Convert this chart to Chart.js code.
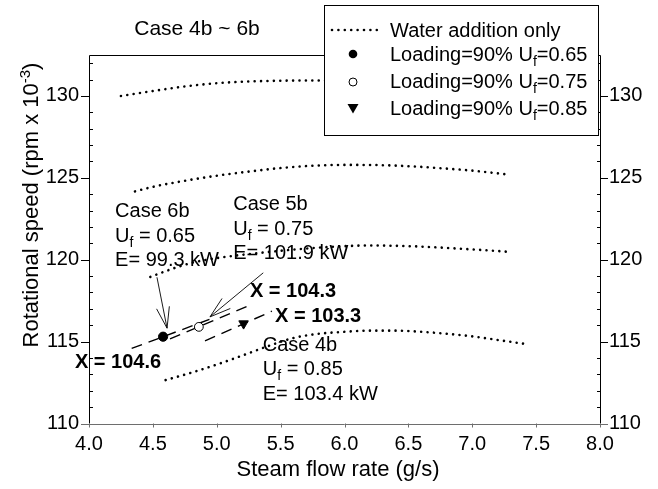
<!DOCTYPE html>
<html><head><meta charset="utf-8">
<script src="https://cdn.jsdelivr.net/npm/chart.js@4.4.1/dist/chart.umd.min.js"></script>
<style>html,body{margin:0;padding:0;background:#fff}#wrap{width:658px;height:489px}</style>
</head><body><div id="wrap"><canvas id="c" width="658" height="489"></canvas></div>
<script>
// ---------- data ----------
const xTickValues = [4.0, 4.5, 5.0, 5.5, 6.0, 6.5, 7.0, 7.5, 8.0];
const xTickLabels = ['4.0', '4.5', '5.0', '5.5', '6.0', '6.5', '7.0', '7.5', '8.0'];
const yTickValues = [110, 115, 120, 125, 130];
const yTickLabels = ['110', '115', '120', '125', '130'];
const yMinorTicks = [111,112,113,114,116,117,118,119,121,122,123,124,126,127,128,129,131,132];

// "Water addition only" curves
const c1x = [4.25, 4.5, 4.75, 5.0, 5.25, 5.5, 5.75, 6.0, 6.25, 6.5, 6.75, 7.0, 7.25];
const c1y = [130.0, 130.3, 130.58, 130.78, 130.88, 130.93, 130.94, 130.92, 130.88, 130.82, 130.74, 130.64, 130.52];
const c2x = [4.36, 4.5, 4.75, 5.0, 5.25, 5.5, 5.75, 6.0, 6.25, 6.5, 6.75, 7.0, 7.26];
const c2y = [124.17, 124.45, 124.82, 125.13, 125.38, 125.6, 125.74, 125.79, 125.78, 125.71, 125.59, 125.44, 125.22];
const c3x = [4.48, 4.6, 4.7, 4.8, 4.9, 5.0, 5.2, 5.4, 5.6, 5.8, 6.0, 6.2, 6.4, 6.6, 6.8, 7.0, 7.2, 7.3];
const c3y = [118.95, 119.3, 119.57, 119.8, 119.97, 120.1, 120.3, 120.47, 120.62, 120.74, 120.83, 120.87, 120.85, 120.8, 120.72, 120.63, 120.53, 120.47];
const c4x = [4.6, 4.8, 5.0, 5.2, 5.4, 5.6, 5.8, 6.0, 6.2, 6.4, 6.6, 6.8, 7.0, 7.2, 7.42];
const c4y = [112.65, 113.1, 113.6, 114.15, 114.72, 115.22, 115.48, 115.6, 115.67, 115.67, 115.6, 115.48, 115.32, 115.1, 114.85];

// Constant-X dashed lines
const lineX1046 = [[4.334, 114.585], [4.986, 116.48]];
const lineX1043 = [[4.634, 115.17], [5.26, 117.22]];
const lineX1033 = [[4.908, 115.04], [5.432, 116.86]];

// Loading = 90% points
const ptUf065 = [4.58, 115.3];
const ptUf075 = [4.86, 115.9];
const ptUf085 = [5.21, 116.1];

// Arrows [from, to]
const arrow6b = [[4.532, 118.93], [4.611, 115.82]];
const arrow5b = [[5.364, 119.2], [4.947, 116.51]];

// Annotation anchors (data coords of first-line baseline, left)
const note6b = [4.204, 122.59];
const note5b = [5.129, 123.02];
const note4b = [5.36, 114.44];
const noteX1046 = [3.89, 113.38];
const noteX1043 = [5.26, 117.7];
const noteX1033 = [5.456, 116.17];

const titleText = 'Case 4b ~ 6b';
const xTitle = 'Steam flow rate (g/s)';
const legendLabels = [
  [['Water addition only', 0]],
  [['Loading=90% U', 0], ['f', 1], ['=0.65', 0]],
  [['Loading=90% U', 0], ['f', 1], ['=0.75', 0]],
  [['Loading=90% U', 0], ['f', 1], ['=0.85', 0]]
];

// ---------- chart ----------
const FONT = 'Arial, "Liberation Sans", Helvetica, sans-serif';
const pts = (xs, ys) => xs.map((x, i) => ({x, y: ys[i]}));
const seg = a => a.map(p => ({x: p[0], y: p[1]}));

const dotted = (data) => ({
  data, showLine: true, pointRadius: 0, borderColor: '#000', borderWidth: 2.6,
  borderDash: [0.01, 6.4], borderCapStyle: 'round', cubicInterpolationMode: 'monotone', fill: false
});
const dashed = (data) => ({
  data, showLine: true, pointRadius: 0, borderColor: '#000', borderWidth: 1.4,
  borderDash: [11, 7], fill: false
});

function richText(ctx, parts, x, y, size, bold) {
  let cx = x;
  for (const [t, sub] of parts) {
    const s = sub ? Math.round(size * 0.72) : size;
    ctx.font = (bold ? 'bold ' : '') + s + 'px ' + FONT;
    ctx.fillText(t, cx, y + (sub ? 5 : 0));
    cx += ctx.measureText(t).width;
  }
}

function arrow(ctx, x0, y0, x1, y1) {
  ctx.beginPath(); ctx.moveTo(x0, y0); ctx.lineTo(x1, y1); ctx.stroke();
  const ang = Math.atan2(y1 - y0, x1 - x0);
  const L = 22, w = 0.3;
  ctx.beginPath();
  ctx.moveTo(x1 - L * Math.cos(ang - w), y1 - L * Math.sin(ang - w));
  ctx.lineTo(x1, y1);
  ctx.lineTo(x1 - L * Math.cos(ang + w), y1 - L * Math.sin(ang + w));
  ctx.stroke();
}

const decor = {
  id: 'decor',
  afterDraw(chart) {
    const ctx = chart.ctx, a = chart.chartArea;
    const xs = chart.scales.x, ys = chart.scales.y;
    const X = v => xs.getPixelForValue(v), Y = v => ys.getPixelForValue(v);
    ctx.save();
    ctx.fillStyle = '#000'; ctx.strokeStyle = '#000'; ctx.lineWidth = 1;
    // axes
    ctx.beginPath();
    ctx.moveTo(a.left + 0.5, a.bottom); ctx.lineTo(a.left + 0.5, a.top + 0.5);
    ctx.lineTo(a.right + 0.5, a.top + 0.5); ctx.lineTo(a.right + 0.5, a.bottom);
    ctx.stroke();
    // y ticks
    ctx.beginPath();
    for (const v of yTickValues) {
      const py = Math.round(Y(v)) + 0.5;
      ctx.moveTo(a.left - 8, py); ctx.lineTo(a.left + 1, py);
      ctx.moveTo(a.right, py); ctx.lineTo(a.right + 8, py);
    }
    for (const v of yMinorTicks) {
      const py = Math.round(Y(v)) + 0.5;
      ctx.moveTo(a.left, py); ctx.lineTo(a.left + 4, py);
      ctx.moveTo(a.right - 3, py); ctx.lineTo(a.right + 1, py);
    }
    ctx.stroke();
    // bottom axis (gray)
    ctx.strokeStyle = '#6e6e6e';
    ctx.beginPath();
    ctx.moveTo(a.left - 8, Math.round(a.bottom) + 0.5); ctx.lineTo(a.right + 8, Math.round(a.bottom) + 0.5);
    for (const v of xTickValues) {
      const px = Math.round(X(v)) + 0.5;
      ctx.moveTo(px, a.bottom); ctx.lineTo(px, a.bottom + 4);
    }
    ctx.stroke();
    ctx.strokeStyle = '#000';

    // titles
    ctx.textAlign = 'center'; ctx.textBaseline = 'alphabetic';
    ctx.font = '21px ' + FONT;
    ctx.fillText(titleText, 197, 35);
    ctx.font = '22px ' + FONT;
    ctx.fillText(xTitle, 338, 476);
    // y title with superscript
    ctx.save();
    ctx.translate(38, 205); ctx.rotate(-Math.PI / 2);
    ctx.textAlign = 'left';
    const p1 = 'Rotational speed (rpm x 10', p2 = '-3', p3 = ')';
    ctx.font = '22px ' + FONT; const w1 = ctx.measureText(p1).width, w3 = ctx.measureText(p3).width;
    ctx.font = '15px ' + FONT; const w2 = ctx.measureText(p2).width;
    let sx = -(w1 + w2 + w3) / 2;
    ctx.font = '22px ' + FONT; ctx.fillText(p1, sx, 0); sx += w1;
    ctx.font = '15px ' + FONT; ctx.fillText(p2, sx, -8); sx += w2;
    ctx.font = '22px ' + FONT; ctx.fillText(p3, sx, 0);
    ctx.restore();

    // annotations
    ctx.textAlign = 'left';
    const notes = [
      [note6b, [[['Case 6b', 0]], [['U', 0], ['f', 1], [' = 0.65', 0]], [['E= 99.3 kW', 0]]]],
      [note5b, [[['Case 5b', 0]], [['U', 0], ['f', 1], [' = 0.75', 0]], [['E= 101.9 kW', 0]]]],
      [note4b, [[['Case 4b', 0]], [['U', 0], ['f', 1], [' = 0.85', 0]], [['E= 103.4 kW', 0]]]]
    ];
    for (const [anc, lines] of notes) {
      lines.forEach((ln, i) => richText(ctx, ln, X(anc[0]), Y(anc[1]) + i * 24.5, 20, false));
    }
    richText(ctx, [['X = 104.6', 0]], X(noteX1046[0]), Y(noteX1046[1]), 20, true);
    richText(ctx, [['X = 104.3', 0]], X(noteX1043[0]), Y(noteX1043[1]), 20, true);
    richText(ctx, [['X = 103.3', 0]], X(noteX1033[0]), Y(noteX1033[1]), 20, true);

    // arrows
    ctx.lineWidth = 0.9;
    for (const ar of [arrow6b, arrow5b]) arrow(ctx, X(ar[0][0]), Y(ar[0][1]), X(ar[1][0]), Y(ar[1][1]));

    // legend
    ctx.lineWidth = 1;
    ctx.fillStyle = '#fff';
    ctx.fillRect(324.5, 5.5, 274, 130);
    ctx.strokeRect(324.5, 5.5, 274, 130);
    ctx.fillStyle = '#000';
    // dotted sample
    for (let dx = 332; dx <= 378; dx += 6.4) { ctx.beginPath(); ctx.arc(dx, 30, 1.3, 0, Math.PI * 2); ctx.fill(); }
    ctx.beginPath(); ctx.arc(353, 54, 4.3, 0, Math.PI * 2); ctx.fill();
    ctx.beginPath(); ctx.arc(353, 82, 4, 0, Math.PI * 2); ctx.stroke();
    ctx.beginPath(); ctx.moveTo(347.5, 104); ctx.lineTo(358.5, 104); ctx.lineTo(353, 113.5); ctx.closePath(); ctx.fill();
    const baselines = [37, 61, 88, 115];
    legendLabels.forEach((parts, i) => richText(ctx, parts, 390, baselines[i], 20, false));
    ctx.restore();
  }
};

const tickOpts = (labels, pad) => ({
  font: {family: FONT, size: 20}, color: '#000', padding: pad, autoSkip: false, maxRotation: 0,
  callback: (v, i) => labels[i]
});

new Chart(document.getElementById('c'), {
  type: 'scatter',
  data: {
    datasets: [
      {data: seg([ptUf065]), pointStyle: 'circle', pointRadius: 4.6, backgroundColor: '#000', borderColor: '#000', borderWidth: 1},
      {data: seg([ptUf075]), pointStyle: 'circle', pointRadius: 4.4, backgroundColor: '#fff', borderColor: '#000', borderWidth: 1},
      {data: seg([ptUf085]), pointStyle: 'triangle', pointRotation: 180, pointRadius: 5.5, backgroundColor: '#000', borderColor: '#000', borderWidth: 1},
      dashed(seg(lineX1046)),
      dashed(seg(lineX1043)),
      dashed(seg(lineX1033)),
      dotted(pts(c1x, c1y)),
      dotted(pts(c2x, c2y)),
      dotted(pts(c3x, c3y)),
      dotted(pts(c4x, c4y))
    ]
  },
  options: {
    responsive: false, animation: false, devicePixelRatio: 1,
    layout: {padding: {top: 55, left: 0, right: 0, bottom: 0}},
    plugins: {legend: {display: false}, tooltip: {enabled: false}, title: {display: false}},
    scales: {
      x: {type: 'linear', min: 4, max: 8,
        afterBuildTicks: s => { s.ticks = xTickValues.map(v => ({value: v})); },
        ticks: tickOpts(xTickLabels, 9),
        grid: {display: false, drawTicks: false}, border: {display: false},
        afterFit: s => { s.height = 65.5; }},
      y: {type: 'linear', position: 'left', min: 110, max: 132.5,
        afterBuildTicks: s => { s.ticks = yTickValues.map(v => ({value: v})); },
        ticks: tickOpts(yTickLabels, 10),
        grid: {display: false, drawTicks: false}, border: {display: false},
        afterFit: s => { s.width = 89; }},
      y2: {type: 'linear', position: 'right', min: 110, max: 132.5,
        afterBuildTicks: s => { s.ticks = yTickValues.map(v => ({value: v})); },
        ticks: tickOpts(yTickLabels, 9),
        grid: {display: false, drawTicks: false}, border: {display: false},
        afterFit: s => { s.width = 58; }}
    }
  },
  plugins: [decor]
});
</script></body></html>
